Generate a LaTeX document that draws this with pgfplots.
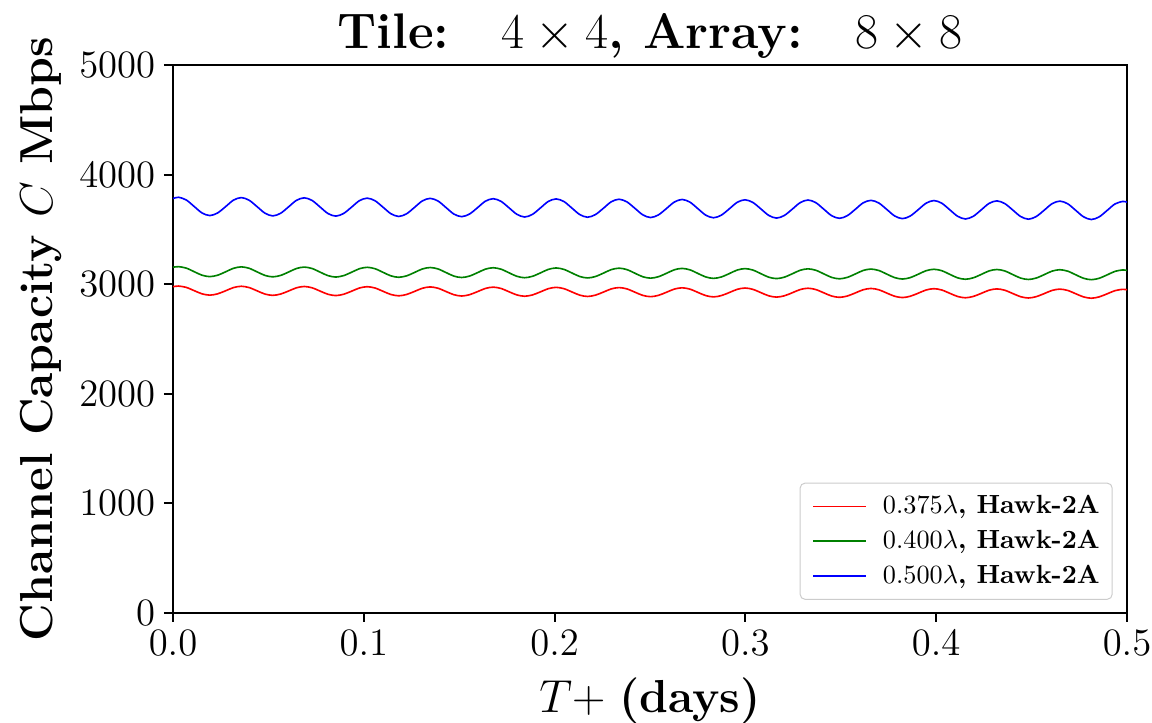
\RequirePackage{fix-cm}
\documentclass[border=0pt]{standalone}
\usepackage{pgfplots}
\pgfplotsset{compat=1.18}
\usepackage{pgfplotstable}
\usetikzlibrary{calc}
\definecolor{mplgreen}{rgb}{0,0.5,0}

% x = time (days); b/g/r = 0.500/0.400/0.375 lambda
\pgfplotstableread{
x b g r
0 3781 3154 2977
0.0028 3793 3160 2983
0.0069 3769 3147 2971
0.0111 3709 3114 2941
0.0152 3650 3082 2912
0.0193 3626 3069 2900
0.0234 3650 3082 2912
0.0276 3708 3113 2940
0.0317 3767 3145 2969
0.0358 3790 3158 2981
0.0399 3766 3145 2969
0.0441 3707 3112 2939
0.0482 3648 3080 2910
0.0523 3623 3067 2898
0.0564 3647 3080 2910
0.0606 3706 3111 2938
0.0647 3765 3143 2967
0.0688 3788 3156 2979
0.0729 3764 3143 2967
0.0771 3704 3110 2937
0.0812 3645 3078 2908
0.0853 3621 3065 2896
0.0894 3645 3078 2908
0.0936 3703 3109 2936
0.0977 3762 3141 2965
0.1018 3785 3154 2977
0.1059 3761 3141 2965
0.1101 3702 3108 2935
0.1142 3643 3076 2906
0.1183 3618 3063 2894
0.1224 3642 3076 2906
0.1266 3701 3107 2934
0.1307 3760 3139 2963
0.1348 3783 3152 2975
0.1389 3759 3139 2963
0.1431 3699 3106 2933
0.1472 3640 3074 2904
0.1513 3616 3061 2892
0.1554 3640 3074 2904
0.1596 3698 3105 2932
0.1637 3757 3137 2961
0.1678 3780 3150 2973
0.1719 3756 3137 2961
0.1761 3697 3104 2931
0.1802 3638 3072 2902
0.1843 3613 3059 2890
0.1884 3637 3072 2902
0.1926 3696 3103 2930
0.1967 3755 3135 2959
0.2008 3778 3148 2971
0.2049 3754 3135 2959
0.2091 3694 3102 2929
0.2132 3635 3070 2900
0.2173 3611 3057 2888
0.2214 3635 3070 2900
0.2256 3693 3101 2928
0.2297 3752 3133 2957
0.2338 3775 3146 2969
0.2379 3751 3133 2957
0.2421 3692 3100 2927
0.2462 3633 3068 2898
0.2503 3608 3055 2886
0.2544 3632 3068 2898
0.2586 3690 3099 2926
0.2627 3749 3131 2955
0.2668 3773 3144 2967
0.2709 3749 3131 2955
0.2751 3689 3098 2925
0.2792 3630 3066 2896
0.2833 3606 3053 2884
0.2874 3630 3066 2896
0.2916 3688 3097 2924
0.2957 3747 3129 2953
0.2998 3770 3142 2965
0.3039 3746 3129 2953
0.3081 3687 3096 2923
0.3122 3628 3064 2894
0.3163 3603 3051 2882
0.3204 3627 3064 2894
0.3246 3685 3095 2922
0.3287 3744 3127 2951
0.3328 3768 3140 2963
0.3369 3744 3127 2951
0.3411 3684 3094 2921
0.3452 3625 3062 2892
0.3493 3601 3049 2880
0.3534 3625 3062 2892
0.3576 3683 3093 2920
0.3617 3742 3125 2949
0.3658 3765 3138 2961
0.3699 3741 3125 2949
0.3741 3682 3092 2919
0.3782 3623 3060 2890
0.3823 3598 3047 2878
0.3864 3622 3060 2890
0.3906 3680 3091 2918
0.3947 3739 3123 2947
0.3988 3763 3136 2959
0.4029 3739 3123 2947
0.4071 3679 3090 2917
0.4112 3620 3058 2888
0.4153 3595 3045 2876
0.4194 3619 3058 2888
0.4236 3678 3089 2916
0.4277 3737 3121 2945
0.4318 3760 3134 2957
0.4359 3736 3121 2945
0.4401 3677 3088 2915
0.4442 3618 3056 2886
0.4483 3593 3043 2874
0.4524 3617 3056 2886
0.4566 3675 3087 2914
0.4607 3734 3119 2943
0.4648 3758 3132 2955
0.4689 3734 3119 2943
0.4731 3674 3086 2913
0.4772 3615 3054 2884
0.4813 3590 3041 2872
0.4854 3614 3054 2884
0.4896 3673 3085 2912
0.4937 3732 3117 2941
0.4978 3755 3130 2953
0.5 3748 3125 2949
}\capdata

\begin{document}
\begin{tikzpicture}
\begin{axis}[
  scale only axis, width=381.6pt, height=219.2pt,
  xmin=0, xmax=0.5, ymin=0, ymax=5000,
  xtick={0,0.1,0.2,0.3,0.4,0.5},
  ytick={0,1000,2000,3000,4000,5000},
  xticklabel style={/pgf/number format/fixed, /pgf/number format/fixed zerofill, /pgf/number format/precision=1},
  yticklabel style={/pgf/number format/1000 sep={}},
  ticklabel style={font=\fontsize{15.5}{18}\selectfont},
  tick align=outside, tick pos=left, major tick length=3.6pt,
  axis line style={line width=0.8pt},
  every tick/.style={black, line width=0.8pt},
  legend style={at={(rel axis cs:0.985,0.024)}, anchor=south east,
    font=\fontsize{10.5}{13}\selectfont, draw=black!20, rounded corners=2pt,
    fill=white, inner sep=3pt, row sep=1pt},
  legend cell align=left,
  legend image code/.code={\draw[#1] (0pt,0pt) -- (21pt,0pt); \path (-2pt,0pt) (25.5pt,0pt);},
]
\addplot[red, line width=0.65pt, smooth] table[x=x, y=r] {\capdata};
\addlegendentry{\textbf{$0.375\lambda$, Hawk-2A}}
\addplot[mplgreen, line width=0.65pt, smooth] table[x=x, y=g] {\capdata};
\addlegendentry{\textbf{$0.400\lambda$, Hawk-2A}}
\addplot[blue, line width=0.65pt, smooth] table[x=x, y=b] {\capdata};
\addlegendentry{\textbf{$0.500\lambda$, Hawk-2A}}

\coordinate (bl) at (rel axis cs:0,0);
\coordinate (tr) at (rel axis cs:1,1);
\coordinate (tc) at (rel axis cs:0.5,1);
\coordinate (bc) at (rel axis cs:0.5,0);
\coordinate (lc) at (rel axis cs:0,0.5);
\end{axis}
\node[anchor=base, font=\fontsize{20}{24}\selectfont] at ($(tc)+(0,6.4pt)$)
  {\textbf{Tile:}\hspace{21pt}$4\times 4$\textbf{, Array:}\hspace{21pt}$8\times 8$};
\node[anchor=base, font=\fontsize{18.5}{22}\selectfont] at ($(bc)+(0,-40pt)$)
  {$T+$ \textbf{(days)}};
\node[anchor=base, rotate=90, font=\fontsize{18.5}{22}\selectfont] at ($(lc)+(-48pt,0)$)
  {\textbf{Channel Capacity $C$ Mbps}};
\pgfresetboundingbox
\path ($(bl)+(-69.2pt,-44pt)$) rectangle ($(tr)+(10pt,26pt)$);
\end{tikzpicture}
\end{document}
